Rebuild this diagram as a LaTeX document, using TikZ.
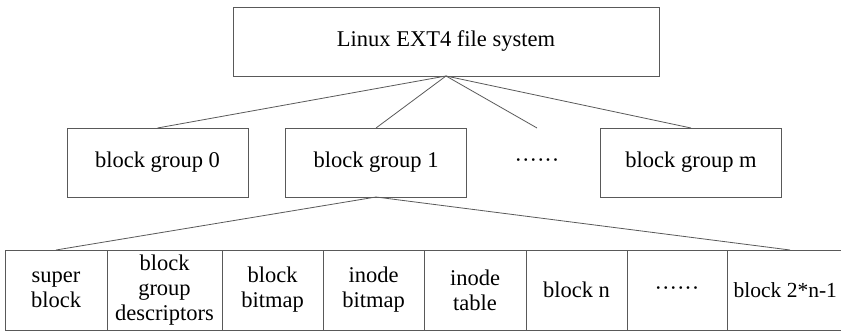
\documentclass[tikz,border=0pt]{standalone}
\usepackage{fontspec}
\setmainfont{Liberation Serif}
\usetikzlibrary{positioning}

\begin{document}
\begin{tikzpicture}[x=1pt,y=-1pt,
    box/.style={draw=black!65, line width=0.8pt, outer sep=0pt, inner sep=0pt,
      align=center, font=\fontsize{22.5}{25}\selectfont},
    group/.style={box, minimum width=181pt, minimum height=69pt},
    cell/.style={box, minimum height=80pt},
    dots/.style={box, draw=none},
    link/.style={draw=black!65, line width=0.8pt}]
  \useasboundingbox (0,0) rectangle (841,331);

  % file system and its block groups
  \node[box, minimum width=426pt, minimum height=69pt] (fs) at (446,41.5)
    {Linux EXT4 file system};
  \node[group] (g0) at (157.5,162.5) {block group 0};
  \node[group] (g1) at (376,162.5) {block group 1};
  \node[dots, minimum height=69pt] (gd) at (537,162.5) {\strut······};
  \node[group] (gm) at (691,162.5) {block group m};

  % blocks of one group
  \node[cell, minimum width=102pt] (sb) at (56,290) {super\\block};
  \node[cell, minimum width=115pt, right=0pt of sb] (bgd) {block\\group\\descriptors};
  \node[cell, minimum width=101pt, right=0pt of bgd] (bb) {block\\bitmap};
  \node[cell, minimum width=101pt, right=0pt of bb] (ib) {inode\\bitmap};
  \node[cell, minimum width=102pt, right=0pt of ib] (it) {inode\\table};
  \node[cell, minimum width=101pt, right=0pt of it] (bn) {block n};
  \node[cell, minimum width=100pt, right=0pt of bn] (bd) {\strut······};
  \node[cell, minimum width=126pt, right=0pt of bd] (bl)
    {\fontsize{21.5}{25}\selectfont block 2*n-1\hspace{9.5pt}};

  \path[link]
    (fs.south) edge (g0.north)
    (fs.south) edge (g1.north)
    (fs.south) edge (gd.north)
    (fs.south) edge (gm.north)

    (g1.south) edge (sb.north)
    (g1.south) edge (bl.north)
    ;
\end{tikzpicture}
\end{document}
